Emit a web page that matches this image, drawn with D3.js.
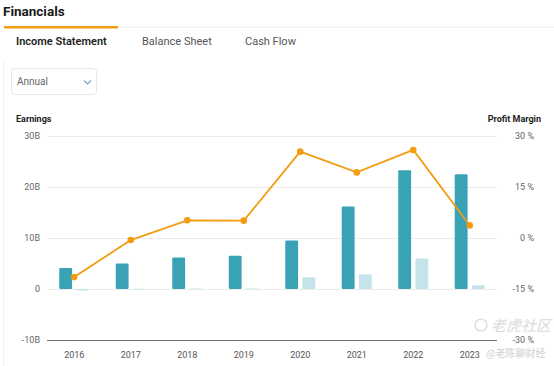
<!DOCTYPE html>
<html>
<head>
<meta charset="utf-8">
<script src="https://d3js.org/d3.v7.min.js"></script>
<style>
  body { margin: 0; background: #fff; }
  svg { display: block; font-family: Roboto, "Noto Sans", sans-serif; }
</style>
</head>
<body>
<svg width="554" height="366"></svg>
<script>
// Data
const years = ["2016", "2017", "2018", "2019", "2020", "2021", "2022", "2023"];
const revenue = [4.1, 5.0, 6.2, 6.5, 9.5, 16.2, 23.3, 22.5];      // B
const netIncome = [-0.3, 0.05, 0.1, 0.1, 2.3, 2.9, 6.0, 0.75];    // B
const profitMargin = [-11.5, -0.6, 5.2, 5.1, 25.4, 19.3, 25.9, 3.7]; // %

const leftTicks = [-10, 0, 10, 20, 30];
const rightTicks = [-30, -15, 0, 15, 30];
const tabs = ["Income Statement", "Balance Sheet", "Cash Flow"];

const svg = d3.select("svg");

// header
svg.append("text").attr("x", 3).attr("y", 16)
  .attr("font-size", 13.5).attr("font-weight", 700).attr("fill", "#1a1a1a")
  .text("Financials");
svg.append("rect").attr("x", 118).attr("y", 26.5).attr("width", 436).attr("height", 1).attr("fill", "#eeeeee");
svg.append("rect").attr("x", 4).attr("y", 26).attr("width", 114).attr("height", 2.5).attr("fill", "#f39c12");

const tabX = [16, 142, 245];
svg.selectAll(".tab")
  .data(tabs)
  .enter()
  .append("text")
  .attr("x", (d, i) => tabX[i])
  .attr("y", 45)
  .attr("font-size", 11)
  .attr("font-weight", (d, i) => i === 0 ? 600 : 400)
  .attr("fill", (d, i) => i === 0 ? "#222" : "#555")
  .text(d => d);

// faint card edge
svg.append("line").attr("x1", 3.5).attr("x2", 3.5).attr("y1", 60).attr("y2", 366)
  .attr("stroke", "#f3f3f3");

// dropdown
svg.append("rect").attr("x", 11.5).attr("y", 68.5).attr("width", 85).attr("height", 26).attr("rx", 3)
  .attr("fill", "#fff").attr("stroke", "#e6e6e6");
svg.append("text").attr("x", 17).attr("y", 85).attr("font-size", 10).attr("fill", "#666").text("Annual");
svg.append("path").attr("d", "M84,80.5 L87.5,84 L91,80.5")
  .attr("fill", "none").attr("stroke", "#7fa6c8").attr("stroke-width", 1.2);

// scales
const x = d3.scaleBand().domain(years).range([46, 498]);
const yL = d3.scaleLinear().domain([-10, 30]).range([340, 136]);
const yR = d3.scaleLinear().domain([-30, 30]).range([340, 136]);
const inner = d3.scaleBand().domain(["rev", "net"]).range([-15, 15]).paddingInner(0.25);
const cx = d => x(d) + x.bandwidth() / 2;

// axis titles
svg.append("text").attr("x", 16).attr("y", 122).attr("font-size", 9).attr("font-weight", 700)
  .attr("fill", "#222").text("Earnings");
svg.append("text").attr("x", 541).attr("y", 122).attr("text-anchor", "end").attr("font-size", 9)
  .attr("font-weight", 700).attr("fill", "#222").text("Profit Margin");

// grid
svg.append("g").selectAll("line")
  .data(leftTicks.filter(t => t !== -10))
  .enter()
  .append("line")
  .attr("x1", 47).attr("x2", 497)
  .attr("y1", d => Math.round(yL(d)) + 0.5).attr("y2", d => Math.round(yL(d)) + 0.5)
  .attr("stroke", "#ececec");

// left axis
const leftAxis = svg.append("g").attr("transform", "translate(47,0)")
  .call(d3.axisLeft(yL).tickValues(leftTicks).tickSize(0).tickPadding(7)
    .tickFormat(d => d === 0 ? "0" : d + "B"));
leftAxis.select(".domain").remove();
leftAxis.selectAll("text").attr("font-size", 9).attr("fill", "#666").attr("font-family", "Roboto, sans-serif");

// right axis
const rightAxis = svg.append("g").attr("transform", "translate(534,0)")
  .call(d3.axisLeft(yR).tickValues(rightTicks).tickSize(0).tickPadding(0)
    .tickFormat(d => d + " %"));
rightAxis.select(".domain").remove();
rightAxis.selectAll("text").attr("font-size", 9).attr("fill", "#666").attr("font-family", "Roboto, sans-serif");

// bottom axis
const bottomAxis = svg.append("g").attr("transform", "translate(0,340)")
  .call(d3.axisBottom(x).tickSize(0).tickPadding(12));
bottomAxis.select(".domain").attr("d", "M47,0.5H497").attr("stroke", "#777");
bottomAxis.selectAll("text").attr("font-size", 9).attr("fill", "#555").attr("font-family", "Roboto, sans-serif");

// bars
function barRect(g, vals, key, color) {
  g.selectAll("rect")
    .data(years)
    .enter()
    .append("rect")
    .attr("x", d => cx(d) + inner(key))
    .attr("width", inner.bandwidth())
    .attr("y", (d, i) => yL(Math.max(0, vals[i])))
    .attr("height", (d, i) => Math.max(0.8, Math.abs(yL(vals[i]) - yL(0))))
    .attr("rx", 1.2)
    .attr("fill", color);
}
barRect(svg.append("g"), revenue, "rev", "#39a3b5");
barRect(svg.append("g"), netIncome, "net", "#c5e3ea");

// margin line
const line = d3.line().x((d, i) => cx(years[i])).y(d => yR(d));
svg.append("path").datum(profitMargin)
  .attr("d", line).attr("fill", "none").attr("stroke", "#f39c12").attr("stroke-width", 1.8);
svg.append("g").selectAll("circle")
  .data(profitMargin)
  .enter()
  .append("circle")
  .attr("cx", (d, i) => cx(years[i]))
  .attr("cy", d => yR(d))
  .attr("r", 3.3)
  .attr("fill", "#f39c12");

// watermark
svg.append("circle").attr("cx", 481).attr("cy", 325).attr("r", 6).attr("fill", "none")
  .attr("stroke", "#d8d8d8").attr("stroke-width", 1.2);
svg.append("text").attr("x", 491).attr("y", 331).attr("font-size", 15)
  .attr("font-family", "'Noto Sans CJK SC', sans-serif").attr("font-style", "italic")
  .attr("fill", "#d4d4d4").attr("opacity", 0.85).text("老虎社区");
svg.append("text").attr("x", 486).attr("y", 357).attr("font-size", 10)
  .attr("font-family", "'Noto Sans CJK SC', sans-serif")
  .attr("fill", "#cfcfcf").text("@老陈聊财经");
</script>
</body>
</html>
